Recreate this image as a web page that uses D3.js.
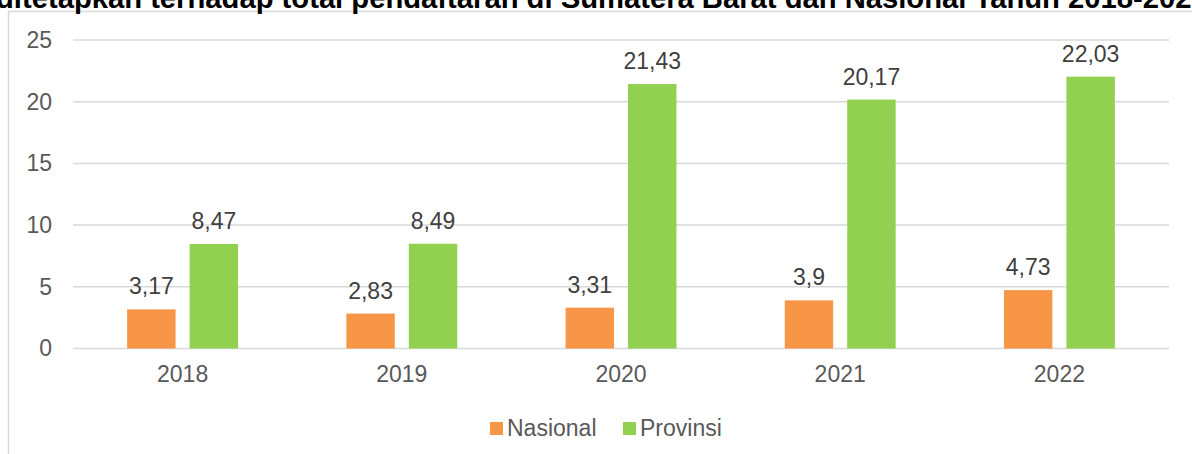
<!DOCTYPE html>
<html><head><meta charset="utf-8">
<script src="https://cdn.jsdelivr.net/npm/d3@7"></script>
<style>body{margin:0;background:#fff;overflow:hidden}svg{display:block}</style>
</head><body>
<svg id="c" width="1192" height="454"></svg>
<script>
const categories = ["2018","2019","2020","2021","2022"];
const seriesNames = ["Nasional","Provinsi"];
const nasional = [3.17, 2.83, 3.31, 3.9, 4.73];
const provinsi = [8.47, 8.49, 21.43, 20.17, 22.03];
const yTicks = [0,5,10,15,20,25];
const colors = ["#F79646","#92D050"];
const titleText = "Persentase HKI yang ditetapkan terhadap total pendaftaran di Sumatera Barat dan Nasional Tahun 2018-2022";

const svg = d3.select("#c");
const W = 1192, H = 454;
const plot = {left:73, right:1169, top:40, bottom:348.5};
const fmt = v => String(v).replace(".", ",");

// frame
svg.append("path").attr("d", `M8.5,${H} V11.5 H${W}`)
  .attr("fill","none").attr("stroke","#d9d9d9").attr("stroke-width",1.5);

// title (clipped at top of the picture)
const t = svg.append("text").text(titleText)
  .attr("y", 7.5).attr("font-family","Liberation Sans, Arial, sans-serif")
  .attr("font-weight","bold").attr("font-size", 30).attr("fill","#000");
const i0 = titleText.indexOf("ditetapkan");
const i1 = titleText.length - 1;
const span = t.node().getSubStringLength(i0, i1 - i0);
const fs = 30 * 1196 / span;
t.attr("font-size", fs);
const preLen = t.node().getSubStringLength(0, i0);
t.attr("x", -4 - preLen);

const x0 = d3.scaleBand().domain(categories).range([plot.left, plot.right]);
const y = d3.scaleLinear().domain([0,25]).range([plot.bottom, plot.top]);
const bw = x0.bandwidth()*0.221;
const gap = x0.bandwidth()*0.064;
const x1 = d3.scaleOrdinal().domain(seriesNames).range([-(bw+gap/2), gap/2]);

// gridlines
svg.append("g").selectAll("line").data(yTicks).join("line")
  .attr("x1", plot.left).attr("x2", plot.right)
  .attr("y1", d=>y(d)).attr("y2", d=>y(d))
  .attr("stroke","#d9d9d9").attr("stroke-width",1.5);

// y axis labels
const yAxis = d3.axisLeft(y).tickValues(yTicks).tickSize(0).tickPadding(21).tickFormat(d=>d);
const ya = svg.append("g").attr("transform",`translate(${plot.left},0)`).call(yAxis);
ya.select(".domain").remove();
ya.selectAll("text").attr("font-family","Liberation Sans, Arial, sans-serif").attr("font-size",23).attr("fill","#595959");

// x axis labels
const xAxis = d3.axisBottom(x0).tickSize(0).tickPadding(17);
const xa = svg.append("g").attr("transform",`translate(0,${plot.bottom})`).call(xAxis);
xa.select(".domain").remove();
xa.selectAll("text").attr("font-family","Liberation Sans, Arial, sans-serif").attr("font-size",23).attr("fill","#595959");

const data = [];
categories.forEach((c,i)=>{
  data.push({cat:c, s:"Nasional", v:nasional[i]});
  data.push({cat:c, s:"Provinsi", v:provinsi[i]});
});
const cx = d => x0(d.cat) + x0.bandwidth()/2 + x1(d.s);

svg.append("g").selectAll("rect").data(data).join("rect")
  .attr("x", cx).attr("width", bw)
  .attr("y", d=>y(d.v)).attr("height", d=>y(0)-y(d.v))
  .attr("fill", d=>colors[seriesNames.indexOf(d.s)]);

svg.append("g").selectAll("text").data(data).join("text")
  .attr("x", d=>cx(d)+bw/2).attr("y", d=>y(d.v)-15)
  .attr("text-anchor","middle")
  .attr("font-family","Liberation Sans, Arial, sans-serif").attr("font-size",23).attr("fill","#404040")
  .text(d=>fmt(d.v));

// legend
const lg = svg.append("g");
const legendX = [490, 623];
seriesNames.forEach((s,i)=>{
  lg.append("rect").attr("x", legendX[i]).attr("y", 422).attr("width",13).attr("height",13).attr("fill",colors[i]);
  lg.append("text").attr("x", legendX[i]+17).attr("y", 436)
    .attr("font-family","Liberation Sans, Arial, sans-serif").attr("font-size",23).attr("fill","#595959").text(s);
});
</script>
</body></html>
